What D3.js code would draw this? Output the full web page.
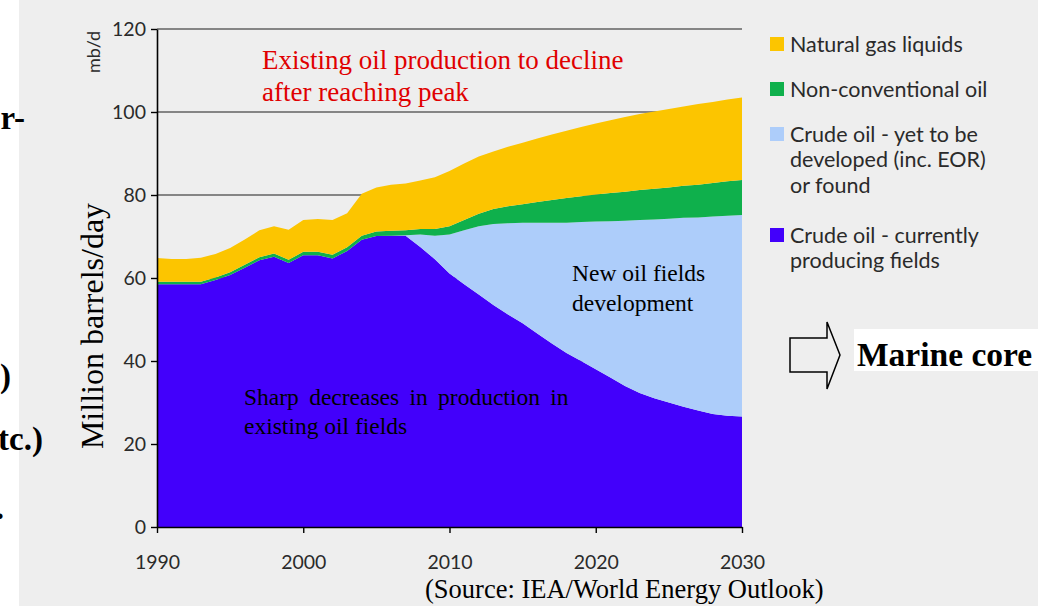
<!DOCTYPE html>
<html><head><meta charset="utf-8">
<script src="https://cdn.jsdelivr.net/npm/d3@7"></script>
<style>
html,body{margin:0;padding:0;background:#fff;}
svg{display:block;}
</style></head>
<body>
<svg id="chart" width="1038" height="606"></svg>
<script>
// ---- data (million barrels per day) ----
const years = [1990,1991,1992,1993,1994,1995,1996,1997,1998,1999,2000,2001,2002,2003,2004,2005,2006,2007,2008,2009,2010,2011,2012,2013,2014,2015,2016,2017,2018,2019,2020,2021,2022,2023,2024,2025,2026,2027,2028,2029,2030];
const crudeCurrent = [58.5,58.5,58.5,58.5,59.5,60.7,62.5,64.3,65.1,63.6,65.5,65.5,64.7,66.5,69.2,70.1,70.2,70.2,67.5,64.5,61.1,58.5,56.0,53.5,51.2,49.1,46.6,44.2,41.9,40.0,38.0,36.0,34.0,32.3,31.0,30.0,29.0,28.1,27.2,26.8,26.6];
const crudeYetToDevelop = [0,0,0,0,0,0,0,0,0,0,0,0,0,0,0,0,0,0.1,3.0,5.7,9.4,13.0,16.5,19.5,22.0,24.2,26.7,29.1,31.4,33.5,35.6,37.7,39.8,41.7,43.1,44.3,45.5,46.5,47.6,48.2,48.6];
const nonConventional = [0.6,0.6,0.6,0.6,0.6,0.7,0.7,0.7,0.8,0.8,0.8,0.8,0.9,0.9,1.0,1.1,1.2,1.2,1.3,1.6,2.0,2.5,3.0,3.6,4.1,4.5,5.0,5.5,6.0,6.2,6.5,6.8,7.0,7.2,7.4,7.5,7.7,7.9,8.1,8.3,8.4];
const naturalGasLiquids = [5.7,5.5,5.5,5.8,5.7,5.8,6.1,6.5,6.6,7.2,7.7,7.9,8.4,8.2,10.1,10.6,11.1,11.3,11.7,12.5,13.3,13.6,13.8,13.9,14.3,14.8,15.3,15.8,16.2,16.7,17.1,17.5,18.0,18.3,18.6,18.9,19.1,19.4,19.5,19.7,19.9];

const seriesKeys = ["current","yet","nonconv","ngl"];
const seriesColors = {current:"#4200fb", yet:"#adcdfa", nonconv:"#0fb04c", ngl:"#fcc500"};
const legendItems = [
  {key:"ngl", lines:["Natural gas liquids"]},
  {key:"nonconv", lines:["Non-conventional oil"]},
  {key:"yet", lines:["Crude oil - yet to be","developed (inc. EOR)","or found"]},
  {key:"current", lines:["Crude oil - currently","producing fields"]}
];
const yTicks = [0,20,40,60,80,100,120];
const xTicks = [1990,2000,2010,2020,2030];
const gridValues = [20,40,60,80,100,120];

const table = years.map((y,i)=>({year:y, current:crudeCurrent[i], yet:crudeYetToDevelop[i], nonconv:nonConventional[i], ngl:naturalGasLiquids[i]}));

const svg = d3.select("#chart");
// grey page panel
svg.append("rect").attr("x",19).attr("y",0).attr("width",1019).attr("height",606).attr("fill","#eeeeee");

const x = d3.scaleLinear().domain([1990,2030]).range([157,742]);
const y = d3.scaleLinear().domain([0,120]).range([527,29]);

// gridlines
svg.append("g").selectAll("line").data(gridValues).join("line")
  .attr("x1",157).attr("x2",742).attr("y1",d=>y(d)).attr("y2",d=>y(d))
  .attr("stroke","#858585").attr("stroke-width",2);

// stacked areas
const stack = d3.stack().keys(seriesKeys);
const layers = stack(table);
const area = d3.area().x(d=>x(d.data.year)).y0(d=>y(d[0])).y1(d=>y(d[1]));
svg.append("g").selectAll("path").data(layers).join("path")
  .attr("d",area).attr("fill",d=>seriesColors[d.key]);

// axes
const sansFont = "Lato, 'Open Sans', sans-serif";
const yAxis = svg.append("g").attr("transform","translate(157,0)")
  .call(d3.axisLeft(y).tickValues(yTicks).tickSize(6).tickSizeOuter(0).tickPadding(5));
const xAxis = svg.append("g").attr("transform","translate(0,527)")
  .call(d3.axisBottom(x).tickValues(xTicks).tickFormat(d3.format("d")).tickSize(6).tickSizeOuter(0).tickPadding(22));
[yAxis,xAxis].forEach(g=>{
  g.select(".domain").attr("stroke","#000").attr("stroke-width",1.6);
  g.selectAll(".tick line").attr("stroke","#000").attr("stroke-width",1.4);
  g.selectAll(".tick text").attr("fill","#2a2a2a").style("font-family",sansFont).style("font-size","19.5px");
});

// unit label
svg.append("text").attr("transform","translate(94,52) rotate(-90)")
  .attr("text-anchor","middle").attr("dy","0.35em").style("font-family",sansFont).style("font-size","18px").attr("fill","#2a2a2a").text("mb/d");
svg.append("text").attr("transform","translate(103,326) rotate(-90)")
  .attr("text-anchor","middle").style("font-family","'Liberation Serif', serif").style("font-size","32px").attr("fill","#000").text("Million barrels/day");

// legend
const lg = svg.append("g");
let ly = 44;
legendItems.forEach(item=>{
  lg.append("rect").attr("x",770).attr("y",ly-7).attr("width",14).attr("height",14).attr("fill",seriesColors[item.key]);
  item.lines.forEach((t,j)=>{
    lg.append("text").attr("x",790).attr("y",ly+j*25.5).attr("dy","0.35em")
      .style("font-family",sansFont).style("font-size","21.5px").attr("fill","#2a2a2a").text(t);
  });
  ly += (item.lines.length-1)*25.5 + (item.lines.length>1?50:45);
});

// annotations
const serif = "'Liberation Serif', 'Times New Roman', serif";
function txt(xp,yp,s,size,color){
  return svg.append("text").attr("x",xp).attr("y",yp).style("font-family",serif).style("font-size",size+"px").attr("fill",color).text(s);
}
txt(262,69,"Existing oil production to decline",27,"#e00000");
txt(262,101,"after reaching peak",27,"#e00000");
txt(572,281,"New oil fields",23.5,"#000");
txt(572,311,"development",23.5,"#000");
const sharp = txt(244,405,"Sharp decreases in production in",23.5,"#000");
const w = sharp.node().getComputedTextLength();
sharp.style("word-spacing", Math.max(0,(329-w)/5)+"px");
txt(244,434,"existing oil fields",23.5,"#000");
txt(425,598,"(Source: IEA/World Energy Outlook)",26.5,"#000");

// block arrow
svg.append("path").attr("d","M790,338 L827,338 L827,322 L840,355 L827,389 L827,372 L790,372 Z")
  .attr("fill","none").attr("stroke","#000").attr("stroke-width",1.5);
svg.append("rect").attr("x",854).attr("y",329).attr("width",184).attr("height",42).attr("fill","#fff");
svg.append("text").attr("x",857).attr("y",366).style("font-family",serif).style("font-size","33.5px").style("font-weight","bold").attr("fill","#000").text("Marine core");

// cut-off slide text fragments at left edge
const frag = [["r-",25,129],[")",11,387],["tc.)",43,450],[".",4,519]];
frag.forEach(f=>svg.append("text").attr("x",f[1]).attr("y",f[2]).attr("text-anchor","end").style("font-family",serif).style("font-size","33px").style("font-weight","bold").attr("fill","#000").text(f[0]));
</script>
</body></html>
